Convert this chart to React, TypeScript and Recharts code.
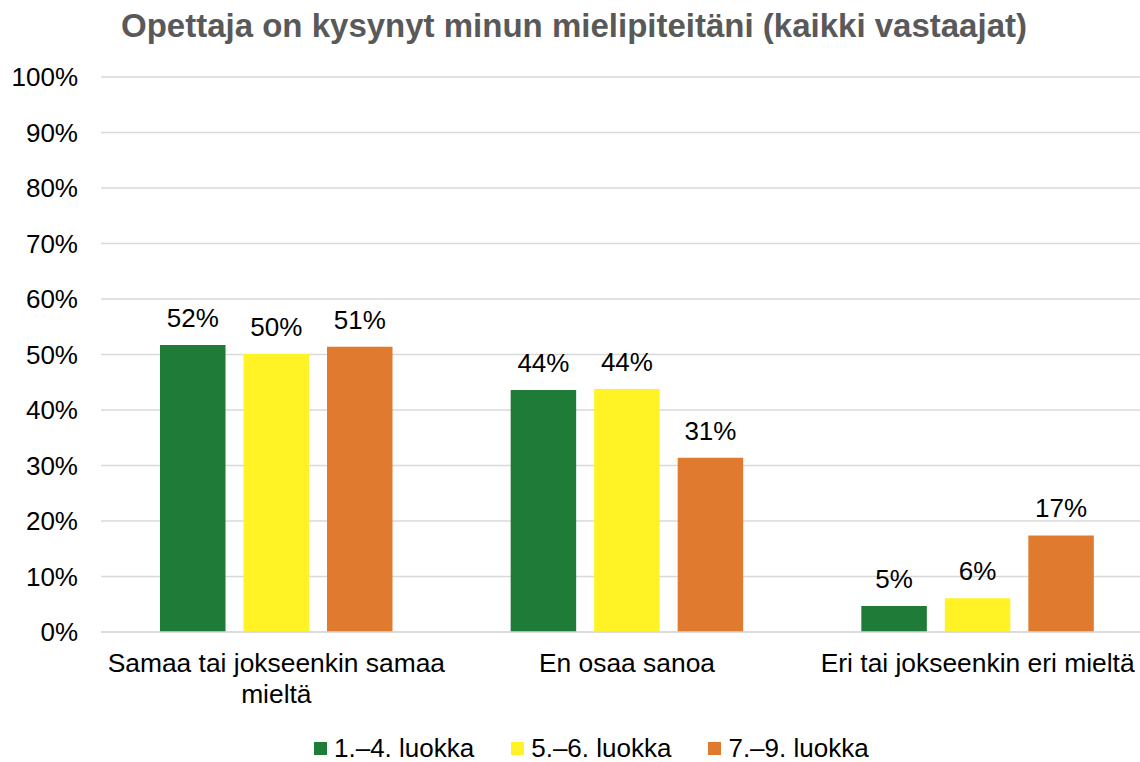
import { BarChart, Bar, XAxis, YAxis, CartesianGrid, Legend, LabelList } from "recharts";

const categories = ["Samaa tai jokseenkin samaa mieltä", "En osaa sanoa", "Eri tai jokseenkin eri mieltä"];
const grade14 = [51.7, 43.6, 4.7];
const grade56 = [50.1, 43.8, 6.1];
const grade79 = [51.4, 31.4, 17.4];
const yTicks = [0, 10, 20, 30, 40, 50, 60, 70, 80, 90, 100];

const series = [
  { key: "g14", name: "1.–4. luokka", color: "#1E7B38" },
  { key: "g56", name: "5.–6. luokka", color: "#FFF225" },
  { key: "g79", name: "7.–9. luokka", color: "#E07A2E" },
];

const data = categories.map((c, i) => ({ category: c, g14: grade14[i], g56: grade56[i], g79: grade79[i] }));

const FONT = "'Liberation Sans', Arial, sans-serif";

// wraps long category names onto two lines like the original
const CategoryTick = ({ x, y, payload }: any) => {
  const text: string = payload.value;
  const lines = text === categories[0] ? ["Samaa tai jokseenkin samaa", "mieltä"] : [text];
  return (
    <text x={x} y={y} textAnchor="middle" fontSize={26.4} fill="#000" fontFamily={FONT}>
      {lines.map((l, i) => (
        <tspan key={i} x={x} dy={i === 0 ? 32 : 31}>{l}</tspan>
      ))}
    </text>
  );
};

const LegendContent = () => (
  <div style={{ display: "flex", justifyContent: "flex-start", paddingLeft: 314, paddingTop: 31, fontFamily: FONT, fontSize: 26, lineHeight: "30px", color: "#000" }}>
    {series.map((s) => (
      <div key={s.key} style={{ display: "flex", alignItems: "center", marginRight: 37 }}>
        <span style={{ width: 13, height: 13, background: s.color, display: "inline-block", marginRight: 7 }} />
        <span>{s.name}</span>
      </div>
    ))}
  </div>
);

export default function App() {
  return (
    <div style={{ position: "absolute", top: 0, left: 0, width: 1140, height: 762, background: "#fff", fontFamily: FONT, overflow: "hidden" }}>
      <div style={{ position: "absolute", top: 7, left: 0, width: 1148, textAlign: "center", fontSize: 33, fontWeight: "bold", color: "#595959", zIndex: 1 }}>
        Opettaja on kysynyt minun mielipiteitäni (kaikki vastaajat)
      </div>
      <BarChart
        width={1155}
        height={762}
        data={data}
        margin={{ top: 77, right: 2, left: 0, bottom: 0 }}
        barGap={18}
        barCategoryGap="17%"
      >
        <CartesianGrid vertical={false} stroke="#d9d9d9" strokeWidth={1.5} />
        <XAxis
          dataKey="category"
          height={70}
          axisLine={{ stroke: "#d9d9d9", strokeWidth: 1.5 }}
          tickLine={false}
          tick={<CategoryTick />}
          interval={0}
        />
        <YAxis
          width={101}
          domain={[0, 100]}
          ticks={yTicks}
          tickFormatter={(v) => `${v}%`}
          axisLine={false}
          tickLine={false}
          tickSize={0}
          tickMargin={23}
          tick={{ fontSize: 26, fill: "#000", fontFamily: FONT }}
        />
        <Legend verticalAlign="bottom" height={60} content={<LegendContent />} />
        {series.map((s) => (
          <Bar key={s.key} dataKey={s.key} name={s.name} fill={s.color} barSize={65.5} isAnimationActive={false}>
            <LabelList
              dataKey={s.key}
              position="top"
              offset={18}
              formatter={(v: any) => `${Math.round(v)}%`}
              style={{ fontSize: 26, fill: "#000", fontFamily: FONT }}
            />
          </Bar>
        ))}
      </BarChart>
    </div>
  );
}
